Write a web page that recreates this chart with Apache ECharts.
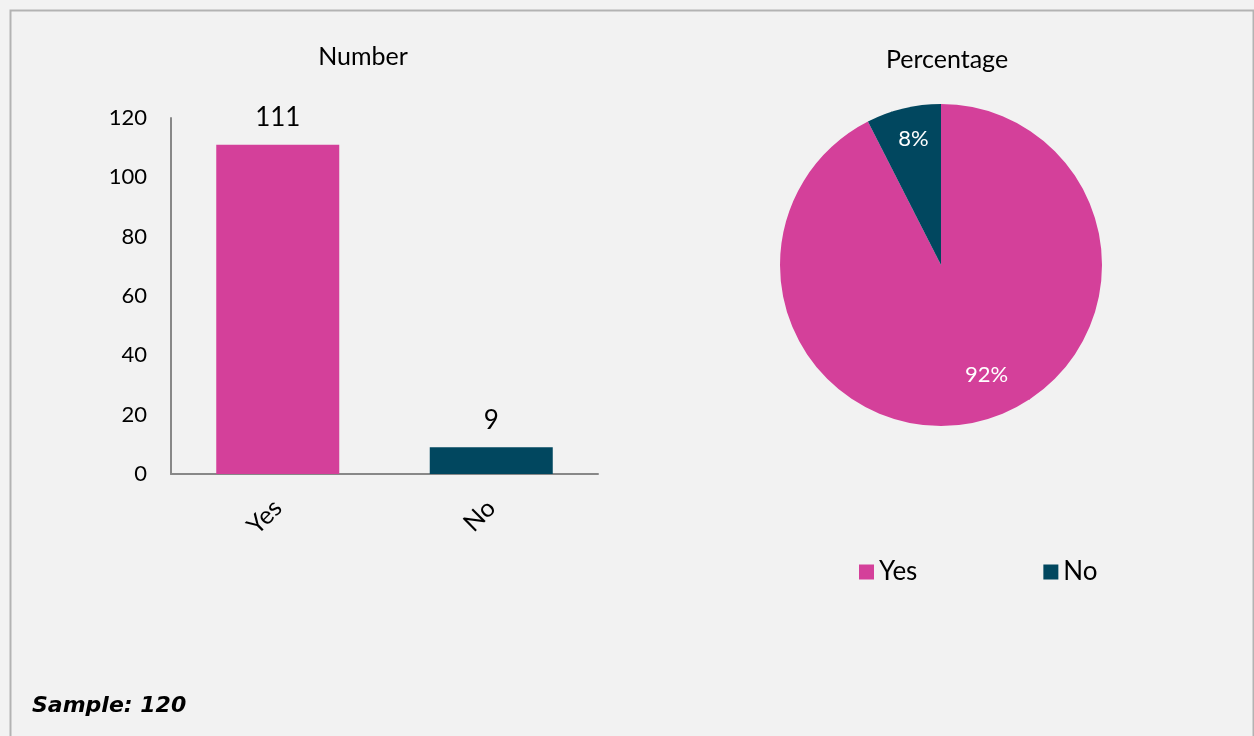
<!DOCTYPE html>
<html>
<head>
<meta charset="utf-8">
<script src="https://cdn.jsdelivr.net/npm/echarts@6/dist/echarts.min.js"></script>
<style>
  html, body { margin: 0; padding: 0; background: #f2f2f2; }
  #main { width: 1254px; height: 736px; }
</style>
</head>
<body>
<div id="main"></div>
<script>
// data
var categories = ['Yes', 'No'];
var counts = [111, 9];
var percentLabels = [92, 8];   // as printed on the pie
var colors = ['#d4409a', '#01475f'];
var yTicks = [0, 20, 40, 60, 80, 100, 120];
var sampleSize = 120;

var chart = echarts.init(document.getElementById('main'));
var font = 'Lato, "Open Sans", sans-serif';

// pie centre in pixels, used to push the % labels outward like Excel's best fit
var pieCx = 941, pieCy = 265, pieR = 161;
var labelNudge = [[17, -9], [4, 5]];

var option = {
  backgroundColor: '#f2f2f2',
  textStyle: { fontFamily: font },
  title: [
    { text: 'Number', left: 358, top: 39, textAlign: 'center',
      textStyle: { fontSize: 25, fontWeight: 'normal', color: '#000', fontFamily: font } },
    { text: 'Percentage', left: 942, top: 42, textAlign: 'center',
      textStyle: { fontSize: 25, fontWeight: 'normal', color: '#000', fontFamily: font } }
  ],
  legend: {
    data: categories,
    left: 854,
    top: 554,
    itemWidth: 15,
    itemHeight: 15,
    itemGap: 126,
    icon: 'rect',
    textStyle: { fontSize: 26, color: '#000', fontFamily: font }
  },
  grid: { left: 171, right: 656, top: 118, bottom: 262 },
  xAxis: {
    type: 'category',
    data: categories,
    axisLine: { lineStyle: { color: '#888', width: 2 } },
    axisTick: { show: false },
    axisLabel: { rotate: 45, margin: 30, fontSize: 25, color: '#000', fontFamily: font }
  },
  yAxis: {
    type: 'value',
    min: yTicks[0],
    max: yTicks[yTicks.length - 1],
    interval: yTicks[1] - yTicks[0],
    axisLine: { show: true, lineStyle: { color: '#888', width: 2 } },
    axisTick: { show: false },
    splitLine: { show: false },
    axisLabel: { margin: 24, fontSize: 22, color: '#000', fontFamily: font }
  },
  series: [
    {
      type: 'bar',
      barWidth: 123,
      data: counts.map(function (v, i) {
        return { value: v, itemStyle: { color: colors[i] } };
      }),
      label: { show: true, position: 'top', distance: 14, fontSize: 26, color: '#000', fontFamily: font }
    },
    {
      type: 'pie',
      center: [pieCx, pieCy],
      radius: pieR,
      startAngle: 90,
      clockwise: true,
      data: categories.map(function (c, i) {
        return { name: c, value: counts[i], itemStyle: { color: colors[i] } };
      }),
      label: {
        show: true,
        position: 'inside',
        formatter: function (p) { return percentLabels[p.dataIndex] + '%'; },
        fontSize: 22,
        color: '#fff',
        fontFamily: font
      },
      labelLayout: function (p) {
        var lx = p.labelRect.x + p.labelRect.width / 2;
        var ly = p.labelRect.y + p.labelRect.height / 2;
        var k = p.dataIndex === 0 ? 1.47 : 1.62;
        var n = labelNudge[p.dataIndex];
        return { x: pieCx + (lx - pieCx) * k + n[0], y: pieCy + (ly - pieCy) * k + n[1], align: 'center', verticalAlign: 'middle' };
      },
      emphasis: { disabled: true }
    }
  ],
  graphic: [
    { type: 'rect', left: 8, top: 8, shape: { width: 1243, height: 740 },
      style: { fill: 'none', stroke: '#b3b3b3', lineWidth: 2 } },
    { type: 'text', left: 32, top: 695,
      style: { text: 'Sample: ' + sampleSize, font: 'italic bold 22px "DejaVu Sans", sans-serif', fill: '#000' } }
  ]
};

chart.setOption(option);
</script>
</body>
</html>
